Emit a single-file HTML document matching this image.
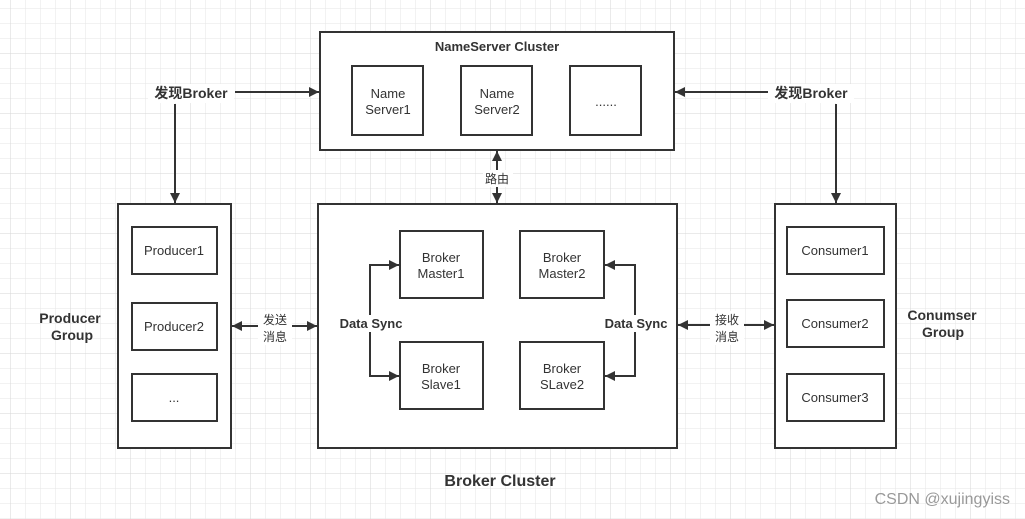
<!DOCTYPE html>
<html><head><meta charset="utf-8"><style>
html,body{margin:0;padding:0;background:#fff;}
svg{display:block;font-family:"Liberation Sans","Noto Sans CJK SC",sans-serif;}
</style></head><body>
<svg width="1025" height="519" xmlns="http://www.w3.org/2000/svg">
<defs>
<pattern id="minor" x="10" y="8" width="15" height="15" patternUnits="userSpaceOnUse">
<path d="M0 0H15M0 0V15" stroke="#e6e6e6" stroke-width="1" fill="none"/>
</pattern>
<pattern id="major" x="10" y="53" width="60" height="60" patternUnits="userSpaceOnUse">
<path d="M0 0H60M0 0V60" stroke="#d6d6d6" stroke-width="1" fill="none"/>
</pattern>
<marker id="a" viewBox="0 0 10 10" refX="10" refY="5" markerWidth="10" markerHeight="10" markerUnits="userSpaceOnUse" orient="auto-start-reverse">
<path d="M0 0L10 5L0 10z" fill="#333"/>
</marker>
</defs>
<rect width="1025" height="519" fill="#fff"/>
<rect width="1025" height="519" fill="url(#minor)"/>
<rect width="1025" height="519" fill="url(#major)"/>
<g fill="#fff" stroke="#333" stroke-width="2">
<rect x="320" y="32" width="354" height="118"/>
<rect x="352" y="66" width="71" height="69"/>
<rect x="461" y="66" width="71" height="69"/>
<rect x="570" y="66" width="71" height="69"/>
<rect x="318" y="204" width="359" height="244"/>
<rect x="400" y="231" width="83" height="67"/>
<rect x="520" y="231" width="84" height="67"/>
<rect x="400" y="342" width="83" height="67"/>
<rect x="520" y="342" width="84" height="67"/>
<rect x="118" y="204" width="113" height="244"/>
<rect x="132" y="227" width="85" height="47"/>
<rect x="132" y="303" width="85" height="47"/>
<rect x="132" y="374" width="85" height="47"/>
<rect x="775" y="204" width="121" height="244"/>
<rect x="787" y="227" width="97" height="47"/>
<rect x="787" y="300" width="97" height="47"/>
<rect x="787" y="374" width="97" height="47"/>
</g>
<g stroke="#333" stroke-width="2" fill="none">
<path d="M235 92H319" marker-end="url(#a)"/>
<path d="M175 104V203" marker-end="url(#a)"/>
<path d="M768 92H675" marker-end="url(#a)"/>
<path d="M836 104V203" marker-end="url(#a)"/>
<path d="M497 151V203" marker-start="url(#a)" marker-end="url(#a)"/>
<path d="M232 326H317" marker-start="url(#a)" marker-end="url(#a)"/>
<path d="M678 325H774" marker-start="url(#a)" marker-end="url(#a)"/>
<path d="M399 265H370V376H399" marker-end="url(#a)"/>
<path d="M370 265H399" marker-end="url(#a)"/>
<path d="M605 265H635V376H605" marker-end="url(#a)"/>
<path d="M635 265H605" marker-end="url(#a)"/>
</g>
<g fill="#fff">
<rect x="148" y="84" width="86" height="19"/>
<rect x="768" y="84" width="86" height="19"/>
<rect x="483" y="170" width="30" height="17"/>
<rect x="258" y="311" width="34" height="34"/>
<rect x="710" y="311" width="34" height="34"/>
<rect x="338" y="315" width="66" height="17"/>
<rect x="602" y="315" width="68" height="17"/>
</g>
<g fill="#333" font-size="13" text-anchor="middle">
<text x="497" y="51" font-weight="bold">NameServer Cluster</text>
<text x="388" y="98">Name</text><text x="388" y="114">Server1</text>
<text x="497" y="98">Name</text><text x="497" y="114">Server2</text>
<text x="606" y="106">......</text>
<text x="191" y="98" font-weight="bold" font-size="14">发现Broker</text>
<text x="811" y="98" font-weight="bold" font-size="14">发现Broker</text>
<text x="497" y="183" font-size="12">路由</text>
<text x="441" y="262">Broker</text><text x="441" y="278">Master1</text>
<text x="562" y="262">Broker</text><text x="562" y="278">Master2</text>
<text x="441" y="373">Broker</text><text x="441" y="389">Slave1</text>
<text x="562" y="373">Broker</text><text x="562" y="389">SLave2</text>
<text x="371" y="328" font-weight="bold">Data Sync</text>
<text x="636" y="328" font-weight="bold">Data Sync</text>
<text x="174" y="255">Producer1</text>
<text x="174" y="331">Producer2</text>
<text x="174" y="402">...</text>
<text x="835" y="255">Consumer1</text>
<text x="835" y="328">Consumer2</text>
<text x="835" y="402">Consumer3</text>
<text x="275" y="324" font-size="12">发送</text><text x="275" y="341" font-size="12">消息</text>
<text x="727" y="324" font-size="12">接收</text><text x="727" y="341" font-size="12">消息</text>
<text x="70" y="323" font-weight="bold" font-size="14">Producer</text>
<text x="72" y="340" font-weight="bold" font-size="14">Group</text>
<text x="942" y="320" font-weight="bold" font-size="14">Conumser</text>
<text x="943" y="337" font-weight="bold" font-size="14">Group</text>
<text x="500" y="486" font-weight="bold" font-size="16">Broker Cluster</text>
</g>
<text x="1010" y="504" fill="#999" font-size="16" text-anchor="end">CSDN @xujingyiss</text>
</svg>
</body></html>
